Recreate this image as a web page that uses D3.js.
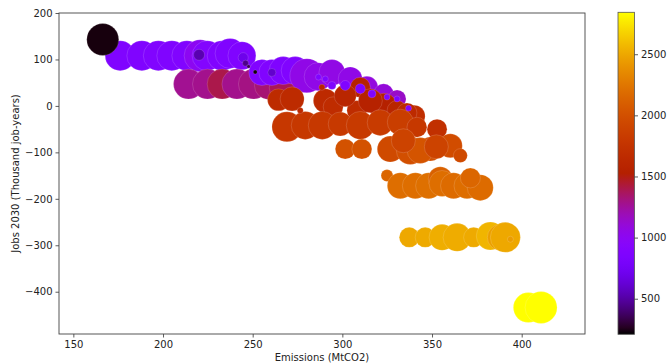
<!DOCTYPE html>
<html>
<head>
<meta charset="utf-8">
<script src="https://cdn.jsdelivr.net/npm/d3@7"></script>
<style>
  html, body { margin: 0; padding: 0; background: #fff; }
  svg { display: block; font-family: "DejaVu Sans", sans-serif; }
</style>
</head>
<body>
<svg id="chart" width="668" height="364"></svg>
<script>
// ---- data ----
const emissions = [
  176.1, 188.2, 197.4, 204.9, 213.3, 220.7, 224.6, 233.0, 237.4, 244.0,
  166.4,
  214.2, 224.8, 233.0, 241.2, 250.4, 258.8, 266.5,
  255.1, 260.7, 267.0, 273.7, 280.2, 286.5, 294.2, 304.4, 313.7, 323.0, 330.5,
  264.4, 272.0, 290.5, 294.9, 308.1, 310.0, 323.0, 330.5, 315.6, 301.6, 340.0, 336.0,
  269.1, 279.3, 288.8, 298.8, 310.0, 321.1, 332.3, 341.6, 352.8,
  301.6, 310.9, 326.7, 337.9, 349.0, 360.2, 365.8, 343.4, 334.0, 352.4,
  324.9, 332.3, 340.7, 348.1, 354.6, 355.6, 362.0, 369.5, 376.9, 371.4,
  337.3, 346.2, 355.6, 364.0, 373.2, 382.5, 388.1, 390.9,
  403.7, 410.8,
  220.1, 244.7, 246.0, 247.7, 251.4, 260.7, 286.7, 290.5, 294.2, 301.6, 310.0, 316.5, 324.9, 330.5, 336.9, 276.5, 288.6, 393.7
];
const jobs = [
  108, 108, 108, 108, 108, 108, 108, 108, 113, 108,
  143,
  47, 47, 47, 47, 47, 44, 39,
  72, 72, 76, 76, 65, 63, 72, 58, 40, 26, 15,
  13, 15, 11, -2, -10, 40, -3, -10, 11, 22, -22, -15,
  -45, -42, -42, -39, -42, -36, -35, -46, -50,
  -93, -93, -93, -96, -93, -86, -107, -96, -75, -88,
  -150, -172, -172, -172, -157, -167, -172, -172, -176, -155,
  -283, -283, -283, -283, -283, -280, -283, -283,
  -434, -434,
  110, 104, 92, 85, 73, 72, 62, 58, 44, 44, 37, 26, 19, 15, -5, -10, 40, -287
];
const sizes = [
  225, 225, 225, 225, 225, 256, 225, 225, 225, 196,
  256,
  225, 225, 225, 225, 225, 196, 169,
  169, 169, 196, 196, 289, 196, 169, 144, 121, 100, 81,
  121, 144, 144, 100, 100, 100, 196, 100, 144, 121, 121, 100,
  225, 196, 196, 144, 196, 169, 169, 100, 100,
  100, 100, 169, 196, 144, 144, 49, 169, 144, 144,
  36, 169, 169, 169, 144, 169, 169, 169, 169, 100,
  100, 100, 169, 196, 100, 196, 169, 225,
  225, 256,
  30, 25, 9, 3, 4, 16, 9, 9, 16, 25, 25, 16, 9, 9, 9, 9, 9, 9
];
const colorVals = [
  870, 870, 880, 870, 880, 1000, 900, 880, 870, 870,
  230,
  1270, 1280, 1400, 1280, 1300, 1330, 1380,
  880, 880, 870, 880, 1050, 1050, 1060, 1050, 1080, 1100, 1150,
  1660, 1660, 1650, 1680, 1670, 1550, 1540, 1600, 1550, 1600, 1700, 1650,
  1790, 1800, 1800, 1810, 1820, 1830, 1850, 1800, 1720,
  2010, 2010, 1950, 1990, 2000, 1970, 1950, 2030, 1900, 1900,
  2150, 2200, 2200, 2210, 2120, 2200, 2180, 2200, 2180, 2150,
  2500, 2510, 2530, 2520, 2510, 2560, 2460, 2500,
  2843, 2843,
  530, 700, 450, 350, 220, 600, 870, 870, 870, 870, 870, 870, 880, 880, 900, 1650, 1600, 2450
];
const xTicks = [150, 200, 250, 300, 350, 400];
const yTicks = [200, 100, 0, -100, -200, -300, -400];
const cbTicks = [500, 1000, 1500, 2000, 2500];
const xLabel = "Emissions (MtCO2)";
const yLabel = "Jobs 2030 (Thousand job-years)";

// ---- colormap (matplotlib gnuplot) ----
function gnuplot(t) {
  t = Math.max(0, Math.min(1, t));
  const r = Math.sqrt(t), g = t * t * t, b = Math.max(0, Math.min(1, Math.sin(2 * Math.PI * t)));
  return d3.rgb(r * 255, g * 255, b * 255).formatHex();
}

const svg = d3.select("#chart");
const L = 59, R = 585, T = 13, B = 334;
const x = d3.scaleLinear().domain([142, 435.3]).range([L, R]);
const y = d3.scaleLinear().domain([-491, 200]).range([B, T]);
const cNorm = d3.scaleLinear().domain([209, 2843]).range([0, 1]).clamp(true);
const rScale = d3.scaleSqrt().domain([0, 256]).range([0, 16]);

const data = emissions.map((e, i) => ({ e, j: jobs[i], s: sizes[i], c: colorVals[i] }));

svg.append("defs").append("clipPath").attr("id", "clip")
  .append("rect").attr("x", L).attr("y", T).attr("width", R - L).attr("height", B - T);

svg.append("g").attr("clip-path", "url(#clip)")
  .selectAll("circle").data(data).join("circle")
  .attr("cx", d => x(d.e))
  .attr("cy", d => y(d.j))
  .attr("r", d => rScale(d.s))
  .attr("fill", d => gnuplot(cNorm(d.c)))
  .attr("stroke", "#fff")
  .attr("stroke-width", 0.5)
  .attr("stroke-opacity", 0.3);

// axes
const xAxis = d3.axisBottom(x).tickValues(xTicks).tickSize(3.5).tickPadding(3).tickFormat(d3.format("d"));
const yAxis = d3.axisLeft(y).tickValues(yTicks).tickSize(3.5).tickPadding(3)
  .tickFormat(d => d < 0 ? "\u2212" + Math.abs(d) : String(d));

const gx = svg.append("g").attr("transform", `translate(0,${B})`).call(xAxis);
const gy = svg.append("g").attr("transform", `translate(${L},0)`).call(yAxis);
[gx, gy].forEach(g => {
  g.select(".domain").remove();
  g.selectAll("line").attr("stroke", "#333").attr("stroke-width", 0.8);
  g.selectAll("text").attr("fill", "#222").style("font-size", "10px").style("font-family", "DejaVu Sans");
});

svg.append("rect").attr("x", L).attr("y", T).attr("width", R - L).attr("height", B - T)
  .attr("fill", "none").attr("stroke", "#444").attr("stroke-width", 0.9);

svg.append("text").attr("x", (L + R) / 2).attr("y", 361).attr("text-anchor", "middle")
  .style("font-size", "10px").attr("fill", "#222").text(xLabel);
svg.append("text").attr("transform", `translate(19,${(T + B) / 2}) rotate(-90)`)
  .attr("text-anchor", "middle").style("font-size", "10px").attr("fill", "#222").text(yLabel);

// colorbar
const cbL = 618, cbR = 634.5, cbT = 12.3, cbB = 334.3;
const cy = d3.scaleLinear().domain([209, 2843]).range([cbB, cbT]);
const grad = svg.select("defs").append("linearGradient").attr("id", "cbgrad")
  .attr("x1", 0).attr("y1", 1).attr("x2", 0).attr("y2", 0);
d3.range(0, 1.0001, 0.02).forEach(t => {
  grad.append("stop").attr("offset", t).attr("stop-color", gnuplot(t));
});
svg.append("rect").attr("x", cbL).attr("y", cbT).attr("width", cbR - cbL).attr("height", cbB - cbT)
  .attr("fill", "url(#cbgrad)").attr("stroke", "#555").attr("stroke-width", 0.8);
const cAxis = d3.axisRight(cy).tickValues(cbTicks).tickSize(3.5).tickPadding(3).tickFormat(d3.format("d"));
const gc = svg.append("g").attr("transform", `translate(${cbR},0)`).call(cAxis);
gc.select(".domain").remove();
gc.selectAll("line").attr("stroke", "#333").attr("stroke-width", 0.8);
gc.selectAll("text").attr("fill", "#222").style("font-size", "10px").style("font-family", "DejaVu Sans");
</script>
</body>
</html>
